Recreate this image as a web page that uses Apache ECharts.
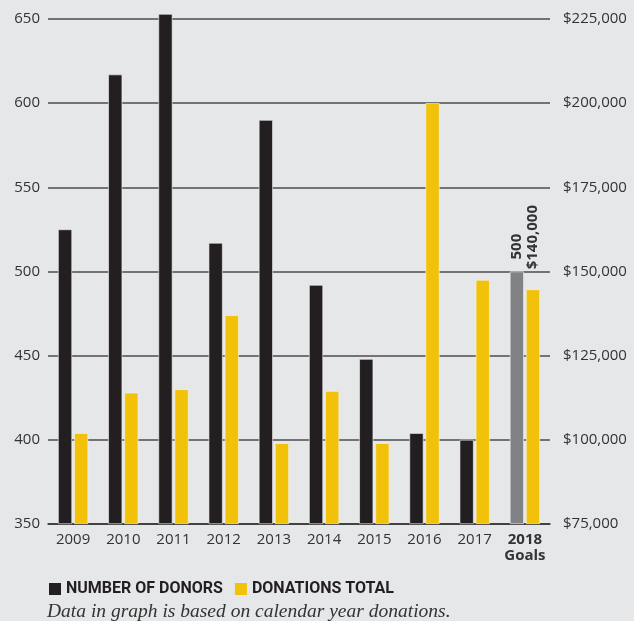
<!DOCTYPE html>
<html><head><meta charset="utf-8">
<script src="https://cdn.jsdelivr.net/npm/echarts@6/dist/echarts.min.js"></script>
<style>html,body{margin:0;padding:0;background:#e6e7e9;}#c{width:634px;height:621px;}</style>
</head><body><div id="c"></div>
<script>
const categories = ['2009','2010','2011','2012','2013','2014','2015','2016','2017','2018 Goals'];
const donors = [525, 617, 653, 517, 590, 492, 448, 404, 400, 500];
const donations = [102000, 114000, 115000, 137000, 99000, 114500, 99000, 200000, 147500, 144700];
const leftTicks = {min: 350, max: 650, interval: 50};
const rightTicks = {min: 75000, max: 225000, interval: 25000};
const goalDonorsLabel = '500';
const goalDonationsLabel = '$140,000';

const dark = '#231f20', yellow = '#f2c20a', gray = '#808285';
const last = categories.length - 1;
// bars are stacked on an invisible base equal to the axis minimum so they can rise above the top tick
const donorData = donors.map((v, i) => i === last ? {
  value: v - leftTicks.min, itemStyle: {color: gray},
  label: {show: true, position: 'top', rotate: 90, align: 'left', verticalAlign: 'middle', distance: 12,
    formatter: goalDonorsLabel, fontWeight: 'bold', fontSize: 15, color: '#333', fontFamily: 'Open Sans'}
} : v - leftTicks.min);
const donationData = donations.map((v, i) => i === last ? {
  value: v - rightTicks.min,
  label: {show: true, position: 'top', rotate: 90, align: 'left', verticalAlign: 'middle', distance: 20,
    formatter: goalDonationsLabel, fontWeight: 'bold', fontSize: 15, color: '#333', fontFamily: 'Open Sans'}
} : v - rightTicks.min);

const baseStyle = {color: 'rgba(0,0,0,0)', borderWidth: 0};
const chart = echarts.init(document.getElementById('c'));
chart.setOption({
  backgroundColor: '#e6e7e9',
  animation: false,
  tooltip: {show: false},
  grid: {left: 48, right: 84, top: 19, bottom: 97, containLabel: false},
  legend: {
    left: 44, top: 576, icon: 'rect', itemWidth: 12, itemHeight: 12, itemGap: 12,
    itemStyle: {borderWidth: 0},
    textStyle: {fontFamily: 'Liberation Sans Narrow, Roboto, sans-serif', fontWeight: 'bold', fontSize: 16, color: '#231f20'},
    data: ['NUMBER OF DONORS', 'DONATIONS TOTAL']
  },
  xAxis: {
    type: 'category', data: categories,
    axisLine: {show: true, lineStyle: {color: '#333', width: 1.5}},
    axisTick: {show: false},
    axisLabel: {
      margin: 8, fontFamily: 'Open Sans', fontSize: 15, color: '#333', interval: 0,
      formatter: v => v === '2018 Goals' ? '{b|2018}\n{b|Goals}' : v,
      rich: {b: {fontWeight: 'bold', fontSize: 15, color: '#333', fontFamily: 'Open Sans', lineHeight: 16}}
    }
  },
  yAxis: [
    {type: 'value', position: 'left', min: leftTicks.min, max: leftTicks.max, interval: leftTicks.interval,
     axisLine: {show: false}, axisTick: {show: false},
     axisLabel: {margin: 8, fontFamily: 'Open Sans', fontSize: 15, color: '#333'},
     splitLine: {show: true, lineStyle: {color: '#4d4d4f', width: 1.5}}},
    {type: 'value', position: 'right', min: rightTicks.min, max: rightTicks.max, interval: rightTicks.interval,
     axisLine: {show: false}, axisTick: {show: false},
     axisLabel: {margin: 13, fontFamily: 'Open Sans', fontSize: 15, color: '#333',
       formatter: v => '$' + v.toLocaleString('en-US')},
     splitLine: {show: false}}
  ],
  series: [
    {name: 'donorsBase', type: 'bar', yAxisIndex: 0, stack: 'donors', data: donors.map(() => leftTicks.min),
     barWidth: 14, barGap: '15%', clip: false, silent: true, itemStyle: baseStyle},
    {name: 'NUMBER OF DONORS', type: 'bar', yAxisIndex: 0, stack: 'donors', data: donorData, barWidth: 14, clip: false,
     itemStyle: {color: dark, borderColor: '#f5f5f5', borderWidth: 0.6}},
    {name: 'donationsBase', type: 'bar', yAxisIndex: 1, stack: 'donations', data: donations.map(() => rightTicks.min),
     barWidth: 14, clip: false, silent: true, itemStyle: baseStyle},
    {name: 'DONATIONS TOTAL', type: 'bar', yAxisIndex: 1, stack: 'donations', data: donationData, barWidth: 14, clip: false,
     itemStyle: {color: yellow, borderColor: '#f5f5f5', borderWidth: 0.6}}
  ],
  graphic: [{
    type: 'text', left: 47, top: 602,
    style: {text: 'Data in graph is based on calendar year donations.', font: 'italic 19.5px "Liberation Serif", serif', fill: '#333'}
  }]
});
</script></body></html>
